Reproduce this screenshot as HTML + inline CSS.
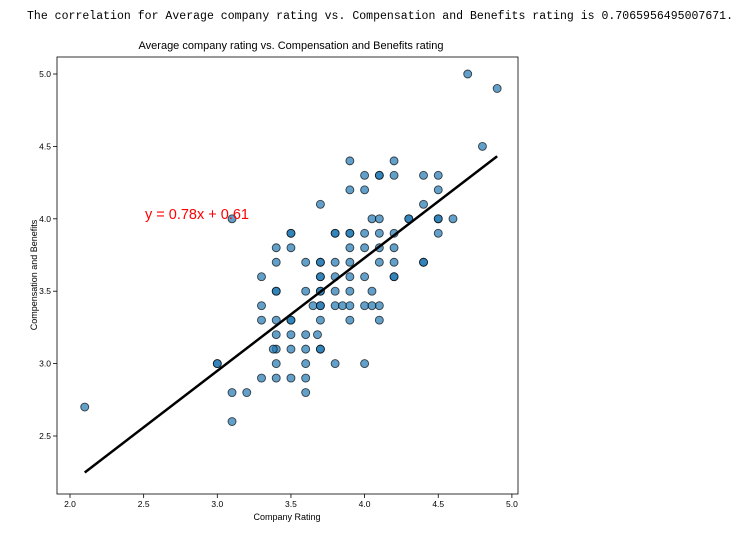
<!DOCTYPE html>
<html><head><meta charset="utf-8"><style>
body{margin:0;background:#fff;width:745px;height:533px;overflow:hidden}
</style></head><body>
<svg width="745" height="533">
<text x="27" y="19" font-family="Liberation Mono, monospace" font-size="11.5" textLength="706" fill="#000">The correlation for Average company rating vs. Compensation and Benefits rating is 0.7065956495007671.</text>
<text x="291" y="49" text-anchor="middle" font-family="Liberation Sans, sans-serif" font-size="11">Average company rating vs. Compensation and Benefits rating</text>
<rect x="57" y="57" width="461" height="437" fill="none" stroke="#000" stroke-width="0.8"/>
<g id="xt"></g><g id="yt"></g><g id="pts"></g><g id="ln"></g>
<text x="287" y="520" text-anchor="middle" font-family="Liberation Sans, sans-serif" font-size="9">Company Rating</text>
<text transform="translate(37,275) rotate(-90)" text-anchor="middle" font-family="Liberation Sans, sans-serif" font-size="9">Compensation and Benefits</text>
<text x="145" y="219" font-family="Liberation Sans, sans-serif" font-size="14.5" fill="red">y = 0.78x + 0.61</text>
</svg>
<script>
const xTicks=[2.0,2.5,3.0,3.5,4.0,4.5,5.0];
const yTicks=[2.5,3.0,3.5,4.0,4.5,5.0];
const xs=[2.1,3.0,3.0,3.1,3.1,3.1,3.2,3.3,3.3,3.3,3.3,3.4,3.4,3.4,3.4,3.4,3.4,3.4,3.4,3.4,3.38,3.5,3.5,3.5,3.5,3.5,3.5,3.5,3.5,3.6,3.6,3.6,3.6,3.6,3.6,3.6,3.65,3.7,3.7,3.7,3.7,3.7,3.7,3.7,3.7,3.7,3.7,3.68,3.7,3.7,3.8,3.8,3.8,3.8,3.8,3.8,3.8,3.85,3.9,3.9,3.9,3.9,3.9,3.9,3.9,3.9,3.9,3.9,4.0,4.0,4.0,4.0,4.0,4.0,4.0,4.05,4.1,4.1,4.1,4.1,4.1,4.1,4.1,4.1,4.05,4.05,4.2,4.2,4.2,4.2,4.2,4.2,4.2,4.3,4.3,4.4,4.4,4.4,4.4,4.5,4.5,4.5,4.5,4.5,4.6,4.7,4.8,4.9];
const ys=[2.7,3.0,3.0,4.0,2.8,2.6,2.8,2.9,3.3,3.4,3.6,3.8,3.7,3.5,3.5,3.3,3.2,3.1,3.0,2.9,3.1,3.9,3.9,3.8,3.3,3.3,3.2,3.1,2.9,3.7,3.5,3.2,3.1,3.0,2.9,2.8,3.4,4.1,3.7,3.7,3.6,3.6,3.5,3.5,3.4,3.4,3.3,3.2,3.1,3.1,3.9,3.9,3.7,3.6,3.5,3.4,3.0,3.4,4.4,4.2,3.9,3.9,3.8,3.7,3.6,3.5,3.4,3.3,4.3,4.2,3.9,3.8,3.6,3.4,3.0,4.0,4.0,4.3,4.3,3.9,3.8,3.7,3.4,3.3,3.5,3.4,4.4,4.3,3.9,3.8,3.7,3.6,3.6,4.0,4.0,4.3,4.1,3.7,3.7,4.3,4.2,4.0,4.0,3.9,4.0,5.0,4.5,4.9];
const slope=0.78, intercept=0.61, xMin=2.1, xMax=4.9;
const X=v=>70+(v-2)*147.3, Y=v=>74+(5-v)*144.8;
const NS='http://www.w3.org/2000/svg';
function mk(t,a,p){const e=document.createElementNS(NS,t);for(const k in a)e.setAttribute(k,a[k]);p.appendChild(e);return e;}
const xt=document.getElementById('xt'),yt=document.getElementById('yt');
xTicks.forEach(v=>{mk('line',{x1:X(v),x2:X(v),y1:494,y2:498,stroke:'#000','stroke-width':0.8},xt);
const t=mk('text',{x:X(v),y:507,'text-anchor':'middle','font-family':'Liberation Sans, sans-serif','font-size':8.5},xt);t.textContent=v.toFixed(1);

});
yTicks.forEach(v=>{mk('line',{x1:53,x2:57,y1:Y(v),y2:Y(v),stroke:'#000','stroke-width':0.8},yt);
const t=mk('text',{x:51,y:Y(v)+3,'text-anchor':'end','font-family':'Liberation Sans, sans-serif','font-size':8.5},yt);t.textContent=v.toFixed(1);

});
const pg=document.getElementById('pts');
xs.forEach((v,i)=>{const c=mk('circle',{cx:X(v),cy:Y(ys[i]),r:4,fill:'rgba(31,119,180,0.7)',stroke:'rgba(0,0,0,0.7)','stroke-width':0.9},pg);

});
const l=mk('line',{x1:X(xMin),y1:Y(slope*xMin+intercept),x2:X(xMax),y2:Y(slope*xMax+intercept),stroke:'#000','stroke-width':2.5},document.getElementById('ln'));


</script>
</body></html>
